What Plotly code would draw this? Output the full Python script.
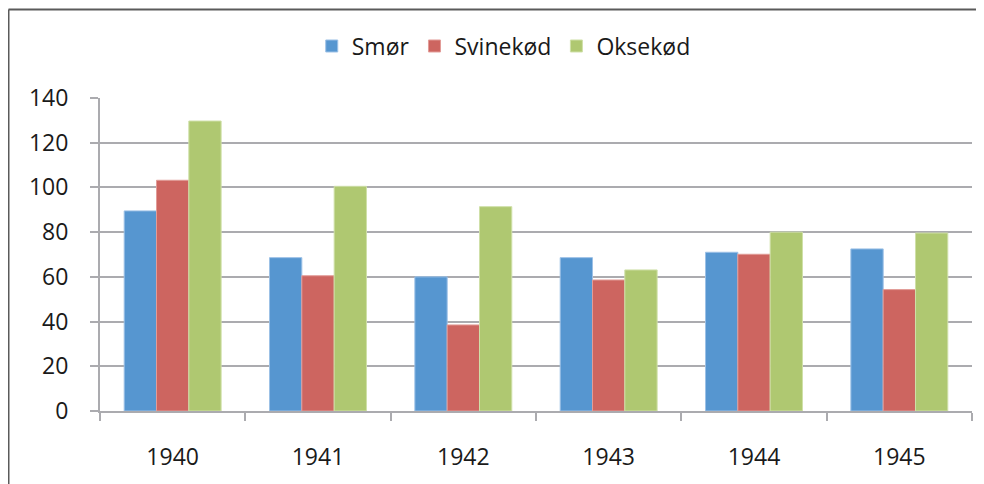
import plotly.graph_objects as go

years = ["1940", "1941", "1942", "1943", "1944", "1945"]
smor = [89.5, 68.6, 60.0, 68.6, 71.0, 72.5]
svinekod = [103.2, 60.5, 38.5, 58.6, 70.1, 54.3]
oksekod = [129.7, 100.5, 91.4, 63.1, 80.0, 79.6]

series_names = ["Smør", "Svinekød", "Oksekød"]
colors = ["#5696D0", "#CD6560", "#AFC871"]
edge = ["#9CC0E6", "#E29C98", "#CFE0A8"]

fig = go.Figure()
for name, vals, c, e in zip(series_names, [smor, svinekod, oksekod], colors, edge):
    fig.add_trace(go.Bar(x=years, y=vals, name=name,
                         marker=dict(color=c, line=dict(color=e, width=1))))

GRID = "#ABABAF"
FONT = "Open Sans"
TXT = "#1a1a1a"

# page body has an 8px margin; plot area spans page x 100..972, y 98..411
L, T, PW, PH = 92, 90, 872, 313
W, H = 976, 476

fig.update_layout(
    width=W, height=H,
    margin=dict(l=L, r=W - L - PW, t=T, b=H - T - PH, autoexpand=False),
    paper_bgcolor="white", plot_bgcolor="white",
    barmode="group", bargap=0.333, bargroupgap=0,
    font=dict(family=FONT, size=22, color=TXT),
    showlegend=True,
    legend=dict(orientation="h", x=0.463, xanchor="center", y=1.166, yanchor="middle",
                font=dict(family=FONT, size=23, color=TXT),
                itemwidth=30, tracegroupgap=0, bgcolor="rgba(0,0,0,0)"),
    xaxis=dict(type="category", tickson="boundaries", ticks="outside", ticklen=8,
               tickwidth=2, tickcolor=GRID, showline=True, linecolor=GRID, linewidth=2,
               showgrid=False, ticklabelstandoff=24, automargin=False,
               tickfont=dict(family=FONT, size=23, color=TXT)),
    yaxis=dict(range=[0, 140], dtick=20, tick0=0, ticks="outside", ticklen=8,
               tickwidth=2, tickcolor=GRID, showline=True, linecolor=GRID, linewidth=2,
               showgrid=True, gridcolor=GRID, gridwidth=2, zeroline=False,
               ticklabelstandoff=17, automargin=False,
               tickfont=dict(family=FONT, size=23, color=TXT)),
)

# outer chart border: only its left and top edges are visible in the frame
bx = (0.5 - L) / PW
by = (T + PH - 1.5) / PH
border = dict(color="#5a5a5a", width=2)
fig.add_shape(type="line", xref="paper", yref="paper", x0=bx, x1=bx, y0=-0.5, y1=by,
              line=border, layer="above")
fig.add_shape(type="line", xref="paper", yref="paper", x0=bx, x1=1.1, y0=by, y1=by,
              line=border, layer="above")

fig.write_html("out.html")
